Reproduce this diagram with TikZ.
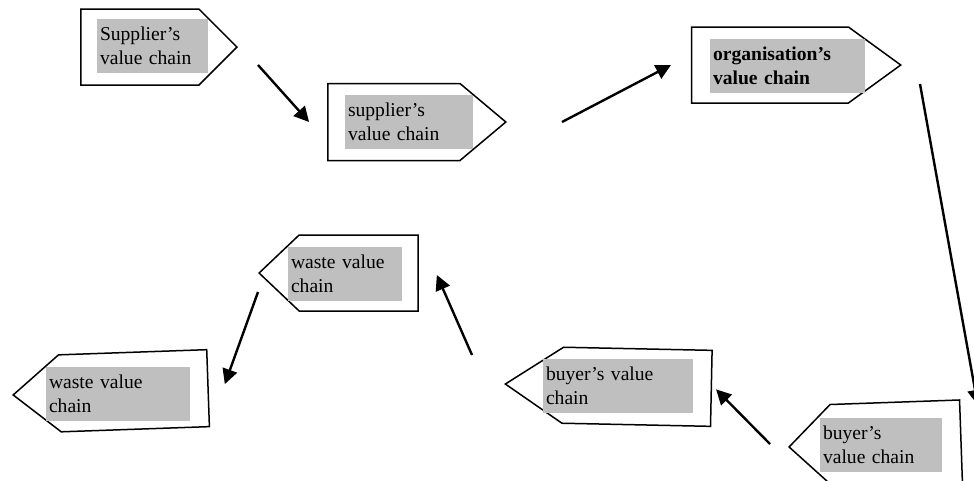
\documentclass[tikz,border=0pt]{standalone}
\usepackage{fontspec}
\setmainfont{Liberation Serif}
\usepackage{tikz}
\usetikzlibrary{shapes.symbols}
\usetikzlibrary{arrows.meta}
\usetikzlibrary{positioning}
\tikzstyle{chain}=[signal,draw,line width=1.5pt,inner sep=0pt]
\tikzstyle{chaintext}=[fill=black!25,inner sep=3pt,minimum height=54pt,align=left]
\tikzstyle{flow} = [draw,line width=2.4pt,-{Triangle[length=15pt,width=15pt]}]

\begin{document}
\begin{tikzpicture}[x=1pt,y=-1pt,font=\fontsize{19.6}{24}\selectfont]
    \useasboundingbox (0,0) rectangle (974,480);
    % First the outlines of the value chains
    \foreach \pos/\name/\dir/\bw/\bh/\ang/\rot in {{(238,47)/sup1/east/156/76/90/0}, {(507,122)/sup2/east/178/77/80/0},
        {(902,65)/org/east/209/76/72/0}, {(788,447)/buy1/west/172/82/88/2}, {(504,384)/buy2/west/206/76/67/-1.2},
        {(258,273)/wst1/west/159/76/87/0}, {(12,395)/wst2/west/195/77/79/2}}
        \node[chain, signal to=\dir, anchor=\dir, minimum width=\bw pt, minimum height=\bh pt,
              signal pointer angle=\ang, rotate=\rot] (\name) at \pos {};

    % Then the grey labels on top
    \foreach \pos/\name/\bw/\txt in {{(152.5,46)/sup1t/105/{Supplier's\\value chain}}, {(409,122)/sup2t/122/{supplier's\\value chain}},
        {(787.5,65.5)/orgt/149/{\bfseries organisation's\\value chain}}, {(881,444.5)/buy1t/116/{buyer's\\value chain}},
        {(618,386)/buy2t/144/{buyer's value\\chain}}, {(345,274)/wst1t/108/{waste value\\chain}},
        {(118,393.5)/wst2t/138/{waste value\\chain}}}
        \node[chaintext, text width=\bw pt] (\name) at \pos {\txt};

    % Connect the chains
    \path[flow] ([shift={(20,18)}]sup1.east) -- ([shift={(-18,0)}]sup2.west);
    \path[flow] ([shift={(55,0)}]sup2.east) -- ([shift={(-20,0)}]org.west);
    \path[flow] ([shift={(18,19)}]org.east) -- ([shift={(16,-36)}]buy1.east);
    \path[flow] ([shift={(-18,-3)}]buy1.west) -- ([shift={(4,1)}]buy2.east);
    \path[flow] ([shift={(-32,-29)}]buy2.west) -- ([shift={(18,2)}]wst1.east);
    \path[flow] ([shift={(0,19)}]wst1.west) -- ([shift={(16,-4)}]wst2.east);

\end{tikzpicture}
\end{document}
